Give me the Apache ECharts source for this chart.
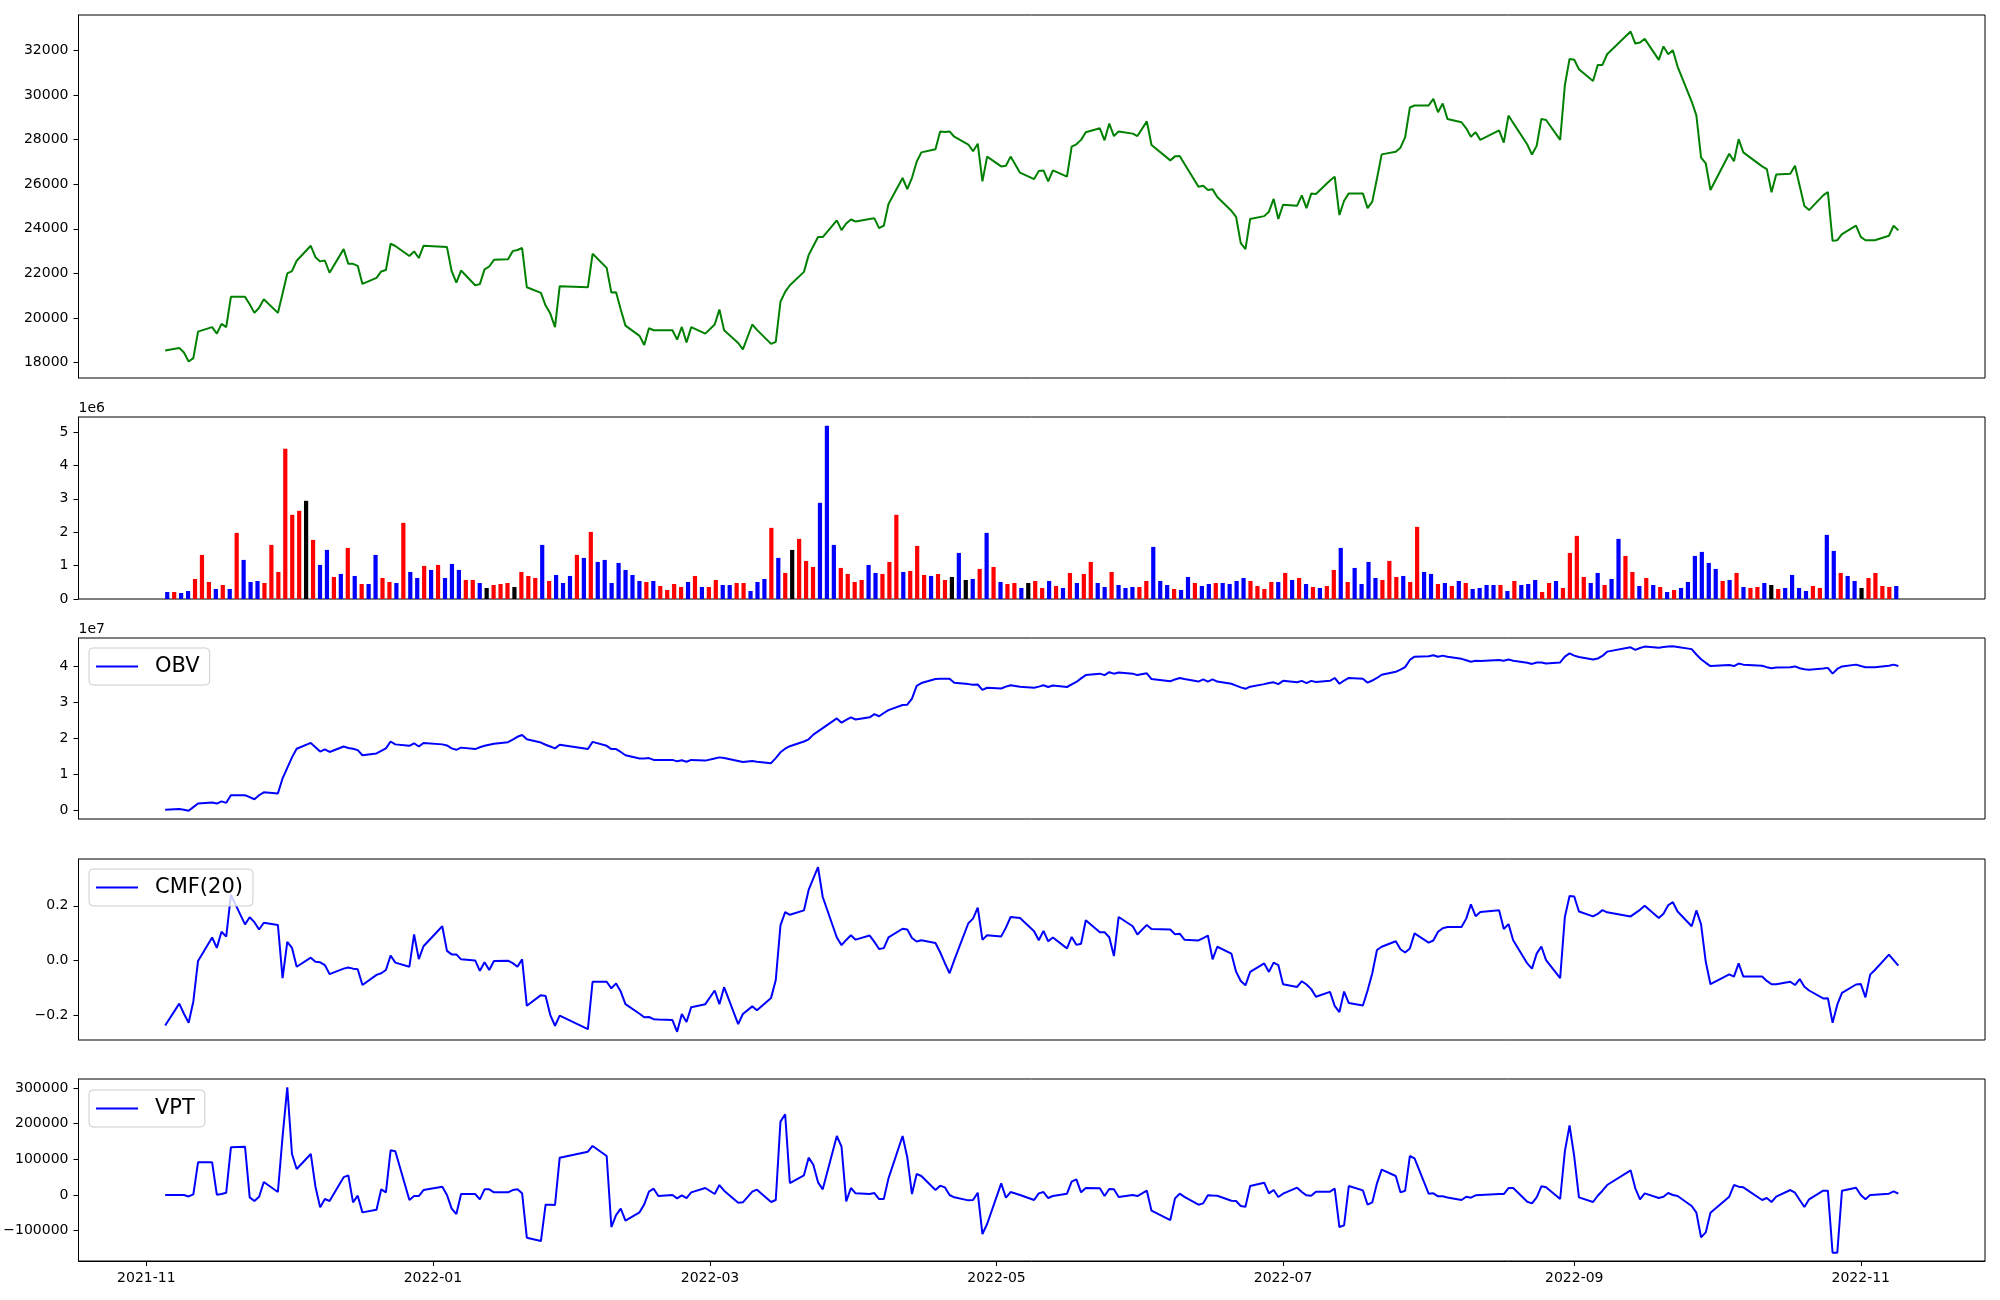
<!DOCTYPE html>
<html><head><meta charset="utf-8">
<script src="https://cdn.jsdelivr.net/npm/echarts@6/dist/echarts.min.js"></script>
<style>html,body{margin:0;padding:0;background:#fff}#c{width:2000px;height:1300px}</style>
</head><body><div id="c"></div>
<script>
// ---- DATA ----
const startDate = '2021-11-05';
const endDate = '2022-11-09';
const holidays = ['2021-12-31','2022-01-31','2022-02-01','2022-02-02','2022-03-01','2022-03-09',
  '2022-05-05','2022-06-01','2022-06-06','2022-08-15','2022-09-09','2022-09-12','2022-10-03','2022-10-10'];

const price = [
18540,18660,18450,18050,18200,19390,19590,19300,19740,19590,
20950,20950,20620,20230,20460,20840,20230,21100,22000,22100,
22570,23240,22730,22540,22580,22030,23090,22430,22430,22340,
21530,21800,22090,22150,23330,23230,22780,22990,22690,23240,
23200,23180,22100,21590,22130,21470,21520,22180,22310,22610,
22640,23000,23050,23140,21380,21130,20560,20200,19590,21430,
21380,22880,22250,21140,21160,20380,19660,19200,18790,19540,
19450,19450,19450,19030,19600,18900,19590,19300,19710,20380,
19450,18880,18590,19710,19470,18840,18930,20730,21170,21470,
22070,22820,23230,23630,23630,24380,23940,24240,24420,24330,
24440,24470,24030,24140,25110,26280,25780,26290,27010,27430,
27570,28370,28340,28370,28130,27780,27480,27820,26130,27240,
26800,26830,27240,26520,26230,26590,26620,26130,26620,26340,
27690,27790,27990,28330,28510,27970,28720,28160,28370,28270,
28160,28820,27760,27070,27250,27270,26920,25890,25930,25740,
25770,25430,24810,24540,23360,23090,24440,24570,24770,25340,
24440,25080,25040,25500,24930,25580,25560,26170,26340,24620,
25260,25590,25590,24930,25220,26260,27340,27460,27640,28110,
29440,29530,29530,29830,29230,29620,28930,28780,28510,28130,
28330,27990,28420,27870,29080,28750,27780,27330,27720,28930,
28880,27990,30440,31620,31580,31160,30630,31350,31350,31830,
32850,32310,32360,32520,31580,32180,31830,32010,31280,29710,
29090,27190,26940,25740,27370,27030,28020,27430,26800,26680,
25640,26440,26470,26830,25920,25020,24840,25500,25650,23460,
23490,23760,24140,23640,23490,23490,23490,23690,24140,23930];

const volumeE6 = [
0.21,0.21,0.18,0.24,0.60,1.32,0.51,0.30,0.42,0.30,
1.98,1.17,0.51,0.54,0.48,1.62,0.81,4.50,2.52,2.64,
2.94,1.77,1.02,1.47,0.66,0.75,1.53,0.69,0.45,0.45,
1.32,0.63,0.51,0.48,2.28,0.81,0.63,0.99,0.87,1.02,
0.63,1.05,0.87,0.57,0.57,0.48,0.33,0.42,0.45,0.48,
0.36,0.81,0.69,0.63,1.62,0.54,0.72,0.48,0.69,1.32,
1.23,2.01,1.11,1.17,0.48,1.08,0.87,0.72,0.54,0.51,
0.54,0.39,0.27,0.45,0.36,0.51,0.69,0.36,0.36,0.57,
0.42,0.42,0.48,0.48,0.24,0.51,0.60,2.13,1.23,0.78,
1.47,1.80,1.14,0.96,2.88,5.19,1.62,0.93,0.75,0.51,
0.57,1.02,0.78,0.75,1.11,2.52,0.81,0.84,1.59,0.72,
0.69,0.75,0.57,0.66,1.38,0.57,0.60,0.90,1.98,0.96,
0.51,0.45,0.48,0.33,0.48,0.54,0.33,0.54,0.39,0.33,
0.78,0.48,0.75,1.11,0.48,0.36,0.81,0.42,0.33,0.36,
0.36,0.54,1.56,0.54,0.42,0.30,0.27,0.66,0.48,0.39,
0.45,0.48,0.48,0.45,0.54,0.63,0.54,0.39,0.30,0.51,
0.51,0.78,0.57,0.63,0.45,0.36,0.33,0.39,0.87,1.53,
0.51,0.93,0.45,1.11,0.63,0.57,1.14,0.66,0.69,0.51,
2.16,0.81,0.75,0.45,0.48,0.39,0.54,0.48,0.30,0.33,
0.42,0.42,0.42,0.24,0.54,0.42,0.45,0.57,0.21,0.48,
0.54,0.33,1.38,1.89,0.66,0.48,0.78,0.42,0.60,1.80,
1.29,0.81,0.39,0.63,0.42,0.36,0.21,0.27,0.33,0.51,
1.29,1.41,1.08,0.90,0.54,0.57,0.78,0.36,0.33,0.36,
0.48,0.42,0.30,0.33,0.72,0.33,0.24,0.39,0.33,1.92,
1.44,0.78,0.69,0.54,0.33,0.63,0.78,0.39,0.36,0.39];

// 1 = red bar, -1 = blue bar, 0 = black bar
const direction = [
-1,1,-1,-1,1,1,1,-1,1,-1,
1,-1,-1,-1,1,1,1,1,1,1,
0,1,-1,-1,1,-1,1,-1,1,-1,
-1,1,1,-1,1,-1,-1,1,-1,1,
-1,-1,-1,1,1,-1,0,1,1,1,
0,1,1,1,-1,1,-1,-1,-1,1,
-1,1,-1,-1,-1,-1,-1,-1,-1,1,
-1,1,1,1,1,-1,1,-1,1,1,
-1,-1,1,1,-1,-1,-1,1,-1,1,
0,1,1,1,-1,-1,-1,1,1,1,
1,-1,-1,1,1,1,-1,1,1,1,
-1,1,1,0,-1,0,-1,1,-1,1,
-1,1,1,-1,0,1,1,-1,1,-1,
1,-1,1,1,-1,-1,1,-1,-1,-1,
1,1,-1,-1,-1,1,-1,-1,1,-1,
-1,1,-1,-1,-1,-1,1,1,1,1,
-1,1,-1,1,-1,1,-1,1,1,-1,
1,-1,-1,-1,-1,1,1,1,-1,1,
1,-1,-1,1,-1,1,-1,1,-1,-1,
-1,-1,1,-1,1,-1,-1,-1,1,1,
-1,1,1,1,1,-1,-1,1,-1,-1,
1,1,-1,1,-1,1,-1,1,-1,-1,
-1,-1,-1,-1,1,-1,1,-1,1,1,
-1,0,1,-1,-1,-1,-1,1,1,-1,
-1,1,-1,-1,0,1,1,1,1,-1];

const obvE7 = [
0.02,0.04,0.02,-0.01,0.09,0.19,0.22,0.19,0.25,0.21,
0.42,0.42,0.37,0.31,0.42,0.50,0.47,0.89,1.18,1.47,
1.71,1.87,1.75,1.63,1.69,1.62,1.77,1.73,1.71,1.67,
1.53,1.58,1.65,1.72,1.91,1.83,1.79,1.86,1.77,1.87,
1.83,1.80,1.72,1.68,1.74,1.70,1.75,1.79,1.82,1.85,
1.89,1.96,2.04,2.09,1.97,1.88,1.82,1.77,1.72,1.82,
1.70,1.90,1.79,1.70,1.70,1.62,1.53,1.44,1.44,1.45,
1.40,1.40,1.40,1.36,1.39,1.35,1.40,1.38,1.44,1.47,
1.45,1.37,1.34,1.37,1.35,1.31,1.45,1.61,1.71,1.78,
1.91,1.97,2.10,2.19,2.28,2.55,2.43,2.51,2.58,2.52,
2.58,2.67,2.61,2.70,2.78,2.92,2.93,3.10,3.45,3.53,
3.64,3.65,3.65,3.65,3.54,3.50,3.48,3.49,3.34,3.40,
3.38,3.43,3.47,3.43,3.40,3.43,3.47,3.42,3.46,3.42,
3.49,3.56,3.66,3.75,3.79,3.75,3.83,3.79,3.82,3.79,
3.75,3.80,3.64,3.58,3.63,3.67,3.64,3.57,3.63,3.57,
3.63,3.57,3.51,3.46,3.41,3.37,3.43,3.50,3.53,3.55,
3.50,3.59,3.55,3.59,3.53,3.59,3.56,3.59,3.67,3.51,
3.60,3.67,3.65,3.54,3.60,3.67,3.76,3.84,3.90,3.97,
4.17,4.26,4.27,4.30,4.26,4.29,4.26,4.20,4.16,4.12,
4.15,4.14,4.17,4.15,4.18,4.15,4.09,4.06,4.10,4.10,
4.07,4.10,4.26,4.35,4.29,4.25,4.18,4.21,4.28,4.40,
4.52,4.45,4.50,4.54,4.51,4.53,4.54,4.55,4.53,4.47,
4.32,4.19,4.09,4.00,4.03,4.00,4.07,4.04,4.01,3.97,
3.94,3.96,3.97,3.99,3.94,3.91,3.90,3.93,3.95,3.79,
3.92,3.99,4.04,4.00,3.97,3.97,3.97,4.01,4.04,4.00];

const cmf20 = [
-0.238,-0.158,-0.195,-0.228,-0.150,-0.002,0.084,0.046,0.105,0.087,
0.240,0.132,0.158,0.140,0.113,0.138,0.130,-0.065,0.068,0.046,
-0.023,0.010,-0.005,-0.007,-0.017,-0.050,-0.030,-0.026,-0.030,-0.032,
-0.090,-0.053,-0.047,-0.035,0.018,-0.008,-0.023,0.095,0.005,0.052,
0.125,0.035,0.022,0.022,0.004,0.000,-0.038,-0.007,-0.035,-0.002,
-0.001,-0.010,-0.023,0.004,-0.166,-0.127,-0.130,-0.200,-0.239,-0.202,
-0.251,-0.078,-0.078,-0.102,-0.084,-0.114,-0.160,-0.195,-0.208,-0.207,
-0.215,-0.216,-0.218,-0.261,-0.196,-0.225,-0.171,-0.160,-0.110,-0.160,
-0.098,-0.233,-0.196,-0.168,-0.182,-0.137,-0.072,0.128,0.177,0.167,
0.183,0.258,0.300,0.341,0.232,0.084,0.056,0.075,0.092,0.076,
0.091,0.068,0.042,0.045,0.084,0.116,0.113,0.082,0.069,0.074,
0.064,0.030,-0.010,-0.047,0.001,0.136,0.153,0.193,0.076,0.092,
0.088,0.120,0.159,0.155,0.107,0.074,0.108,0.070,0.084,0.044,
0.086,0.057,0.061,0.147,0.103,0.103,0.085,0.016,0.159,0.125,
0.095,0.130,0.115,0.113,0.096,0.098,0.076,0.073,0.082,0.091,
0.004,0.050,0.025,-0.041,-0.075,-0.091,-0.042,-0.011,-0.042,-0.008,
-0.017,-0.087,-0.097,-0.076,-0.088,-0.105,-0.133,-0.115,-0.166,-0.189,
-0.114,-0.156,-0.165,-0.110,-0.047,0.038,0.050,0.070,0.041,0.029,
0.044,0.099,0.065,0.073,0.105,0.118,0.122,0.122,0.153,0.205,
0.162,0.177,0.184,0.115,0.133,0.074,-0.011,-0.030,0.025,0.051,
0.001,-0.065,0.159,0.236,0.234,0.179,0.161,0.170,0.184,0.176,
0.161,0.173,0.185,0.200,0.155,0.171,0.202,0.213,0.179,0.125,
0.183,0.132,-0.005,-0.087,-0.051,-0.059,-0.011,-0.059,-0.059,-0.075,
-0.087,-0.087,-0.078,-0.090,-0.068,-0.096,-0.110,-0.139,-0.138,-0.228,
-0.162,-0.119,-0.088,-0.086,-0.135,-0.052,-0.035,0.021,0.001,-0.019];

const vpt = [
0,0,0,-4000,2000,91600,91600,1000,3000,6500,
133600,135500,-6500,-16800,-4700,36400,8400,163600,301900,115000,
72900,115000,23400,-34600,-11200,-16800,50000,55100,-20600,-1900,
-48600,-41100,15900,7500,125200,122400,-14000,-2800,-2800,14000,
23400,0,-38300,-53300,2800,2800,-12100,15900,15900,7500,
7500,14000,15900,4700,-119600,-129000,-27100,-27500,-28000,104700,
121500,137400,109300,-89700,-56100,-38300,-72000,-48600,-26200,9300,
17800,-2800,0,-9300,-900,-8400,7500,19600,2800,28000,
12100,-21500,-20600,9300,15000,-19600,-14000,205600,226200,33600,
55100,104700,85000,35500,15900,165400,135500,-17800,19600,4700,
2800,5600,-11200,-11200,46700,165400,105600,2800,58900,53300,
14000,26200,21500,0,-6500,-15000,-14000,6500,-109300,-81300,
32700,-7500,8400,0,-14000,4700,8400,-8400,-2800,3700,
37400,43900,7500,19600,18700,-2800,16800,15900,-5600,0,
-2800,12100,-43900,-70100,-9300,3700,-5000,-27100,-23400,-900,
-1500,-1900,-15900,-16800,-30800,-32700,25200,34600,4700,14000,
-5600,3700,20600,8400,-900,-1900,9300,9300,17800,-89700,
-85000,25200,13100,-27100,-20600,32700,71000,53300,7500,12100,
109300,102800,3700,4700,-3700,-3700,-7000,-14000,-4700,-7500,
-900,0,2800,2800,19600,19600,-18700,-23400,-6500,24300,
21500,-11200,122400,195300,107500,-6500,-19600,-2000,12100,28000,
69200,18700,-12100,4700,-8400,-4700,5600,0,-2800,-30800,
-49500,-118700,-104700,-49500,-4700,28000,23400,21500,-14000,-8400,
-19600,-4700,14000,6500,-14000,-33600,-12100,12100,12100,-161700,
-161700,12100,20600,0,-12100,0,1000,3700,10300,3700];

const xTickLabels = ['2021-11','2022-01','2022-03','2022-05','2022-07','2022-09','2022-11'];
const priceTicks = [18000,20000,22000,24000,26000,28000,30000,32000];
const volumeTicks = [0,1,2,3,4,5];
const obvTicks = [0,1,2,3,4];
const cmfTicks = [-0.2,0.0,0.2];
const vptTicks = [-100000,0,100000,200000,300000];

// ---- BUILD ----
function tradingDays(s, e, hol) {
  const out = [], hs = new Set(hol);
  let t = Date.parse(s + 'T00:00:00Z');
  const end = Date.parse(e + 'T00:00:00Z');
  while (t <= end) {
    const d = new Date(t), wd = d.getUTCDay(), iso = d.toISOString().slice(0, 10);
    if (wd !== 0 && wd !== 6 && !hs.has(iso)) out.push(t);
    t += 86400000;
  }
  return out;
}
const dates = tradingDays(startDate, endDate, holidays);
const span = dates[dates.length - 1] - dates[0];
const xMin = dates[0] - 0.05 * span, xMax = dates[dates.length - 1] + 0.05 * span;
const xTickVals = xTickLabels.map(s => Date.parse(s + '-01T00:00:00Z'));

function padRange(arr, stickyZero) {
  const lo = Math.min(...arr), hi = Math.max(...arr), m = 0.05 * (hi - lo);
  return stickyZero ? [0, hi * 1.05] : [lo - m, hi + m];
}
const nBars = volumeE6.length, bw = 0.6;
const vMin = -bw / 2 - 0.05 * (nBars - 1 + bw), vMax = nBars - 1 + bw / 2 + 0.05 * (nBars - 1 + bw);

const FONT = 'DejaVu Sans';
const tickStyle = {show: true, inside: false, length: 5, lineStyle: {color: '#000', width: 1}};
const lbl = {fontFamily: FONT, fontSize: 14, color: '#000'};
const minus = s => s.replace('-', '\u2212');

function yAxis(gi, range, ticks, fmt, name) {
  const a = {
    type: 'value', gridIndex: gi, min: range[0], max: range[1], position: 'left',
    splitLine: {show: false},
    axisLine: {show: true, onZero: false, lineStyle: {color: '#000', width: 1}},
    axisTick: Object.assign({customValues: ticks}, tickStyle),
    axisLabel: Object.assign({customValues: ticks, margin: 10, formatter: fmt}, lbl)
  };
  if (name) {
    a.name = name; a.nameLocation = 'end'; a.nameGap = 2;
    a.nameTextStyle = {fontFamily: FONT, fontSize: 14, color: '#000', align: 'left', verticalAlign: 'bottom'};
  }
  return a;
}
function dateX(gi, visible) {
  return {
    type: 'value', gridIndex: gi, min: xMin, max: xMax, show: visible, position: 'bottom',
    splitLine: {show: false},
    axisLine: {show: true, onZero: false, lineStyle: {color: '#000', width: 1}},
    axisTick: Object.assign({customValues: xTickVals}, tickStyle),
    axisLabel: Object.assign({customValues: xTickVals, margin: 10,
      formatter: v => new Date(v).toISOString().slice(0, 7)}, lbl)
  };
}

const L = 78.5, R = 15;
const grid = [
  {top: 15, height: 363}, {top: 417, height: 182}, {top: 638, height: 181},
  {top: 859, height: 181}, {top: 1079, height: 182}
].map(g => Object.assign({left: L, right: R, show: true, borderColor: '#000', borderWidth: 1, backgroundColor: '#fff'}, g));

const dirColor = {'1': '#ff0000', '-1': '#0000ff', '0': '#000000'};
const lineData = arr => dates.map((t, i) => [t, arr[i]]);

const legendBase = {
  orient: 'horizontal', icon: 'rect', itemWidth: 42, itemHeight: 2,
  backgroundColor: 'rgba(255,255,255,0.8)', borderColor: '#cccccc', borderWidth: 1, borderRadius: 4,
  padding: [8, 10, 8, 7], selectedMode: false,
  textStyle: {fontFamily: FONT, fontSize: 21, color: '#000', padding: [0, 0, 0, 12]}
};

const option = {
  animation: false,
  backgroundColor: '#fff',
  grid: grid,
  legend: [
    Object.assign({}, legendBase, {data: ['OBV'], left: 89, top: 648}),
    Object.assign({}, legendBase, {data: ['CMF(20)'], left: 89, top: 869}),
    Object.assign({}, legendBase, {data: ['VPT'], left: 89, top: 1090})
  ],
  xAxis: [
    dateX(0, false),
    {type: 'value', gridIndex: 1, min: vMin, max: vMax, show: false, splitLine: {show: false},
     axisLine: {onZero: false}},
    dateX(2, false),
    dateX(3, false),
    dateX(4, true)
  ],
  yAxis: [
    yAxis(0, padRange(price), priceTicks, v => String(v)),
    yAxis(1, padRange(volumeE6, true), volumeTicks, v => String(v), '1e6'),
    yAxis(2, padRange(obvE7), obvTicks, v => String(v), '1e7'),
    yAxis(3, padRange(cmf20), cmfTicks, v => minus(v.toFixed(1))),
    yAxis(4, padRange(vpt), vptTicks, v => minus(String(v)))
  ],
  series: [
    {name: 'Close', type: 'line', xAxisIndex: 0, yAxisIndex: 0, data: lineData(price),
     showSymbol: false, color: '#008000', lineStyle: {width: 2, color: '#008000'}},
    {name: 'Volume', type: 'bar', xAxisIndex: 1, yAxisIndex: 1, barWidth: 4.2,
     data: volumeE6.map((v, i) => ({value: [i, v], itemStyle: {color: dirColor[String(direction[i])]}}))},
    {name: 'OBV', type: 'line', xAxisIndex: 2, yAxisIndex: 2, data: lineData(obvE7),
     showSymbol: false, color: '#0000ff', lineStyle: {width: 2, color: '#0000ff'}},
    {name: 'CMF(20)', type: 'line', xAxisIndex: 3, yAxisIndex: 3, data: lineData(cmf20),
     showSymbol: false, color: '#0000ff', lineStyle: {width: 2, color: '#0000ff'}},
    {name: 'VPT', type: 'line', xAxisIndex: 4, yAxisIndex: 4, data: lineData(vpt),
     showSymbol: false, color: '#0000ff', lineStyle: {width: 2, color: '#0000ff'}}
  ]
};
const chart = echarts.init(document.getElementById('c'), null, {renderer: 'canvas', width: 2000, height: 1300});
chart.setOption(option);
</script>
</body></html>
